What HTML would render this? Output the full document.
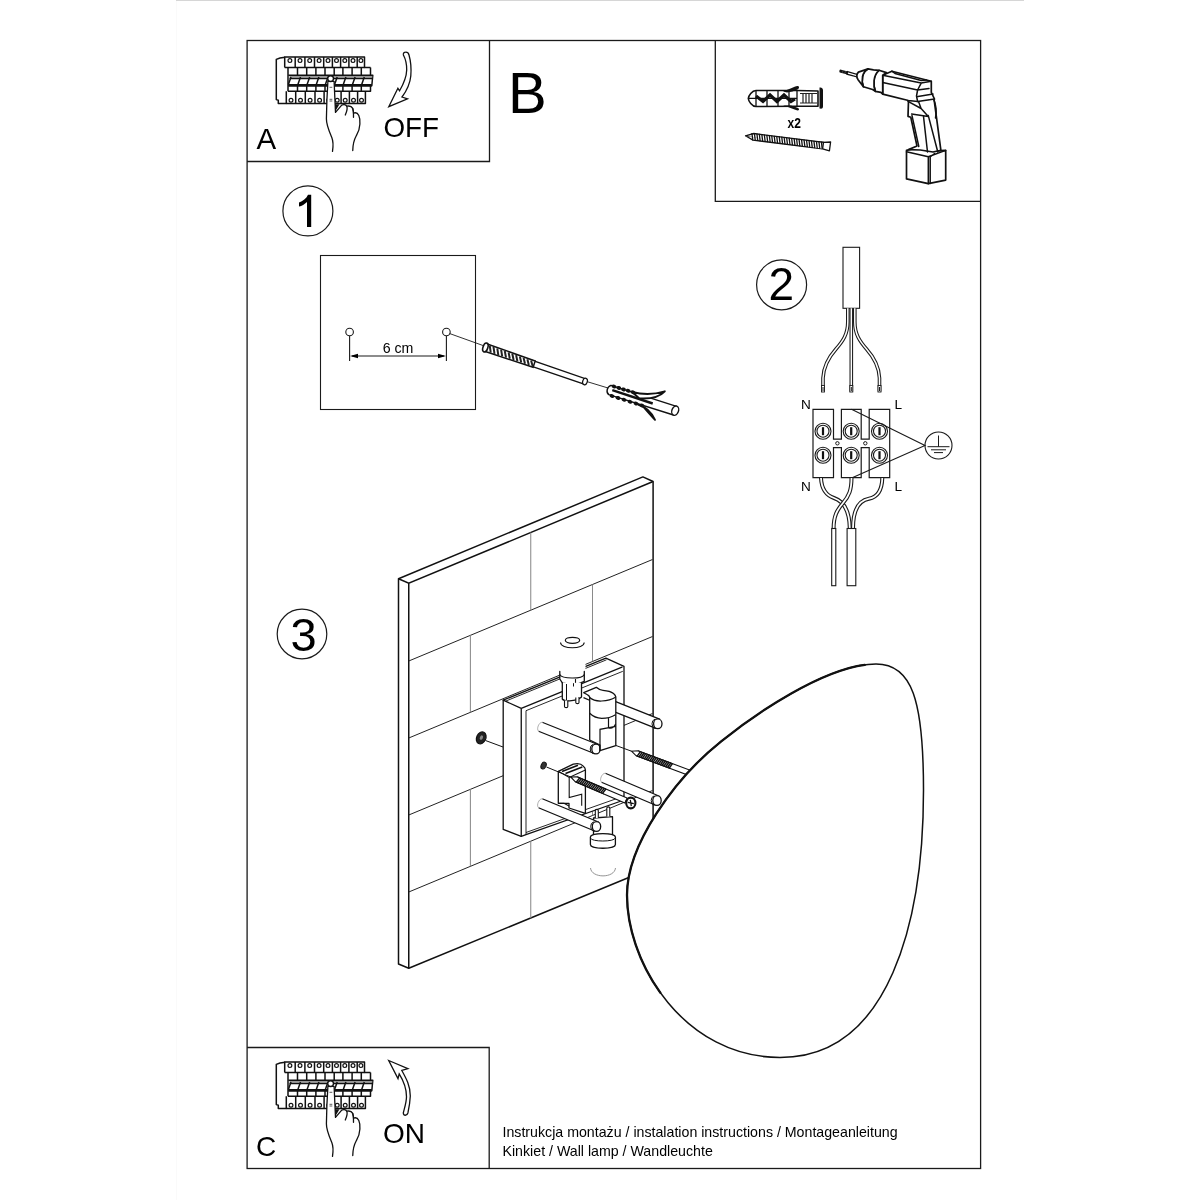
<!DOCTYPE html>
<html><head><meta charset="utf-8">
<style>
html,body{margin:0;padding:0;background:#fff;width:1200px;height:1200px;overflow:hidden}
svg{display:block;filter:grayscale(1)}
text{font-family:"Liberation Sans",sans-serif;fill:#000}
</style></head>
<body>
<svg width="1200" height="1200" viewBox="0 0 1200 1200">
<rect width="1200" height="1200" fill="#fff"/>
<g fill="none" stroke="#1a1a1a" stroke-width="1.3">
<rect x="247.1" y="40.5" width="733.5" height="1128"/>
<path d="M247.1,161.5 H489.5 V40.5"/>
<path d="M715.3,40.5 V201.3 H980.6"/>
<path d="M247.1,1047.5 H489.2 V1168.5"/>
</g>
<text x="256.5" y="148.8" font-size="29.5">A</text>
<text x="383.5" y="137" font-size="27.8">OFF</text>
<text x="508" y="112.5" font-size="58">B</text>
<text x="256" y="1155.7" font-size="28">C</text>
<text x="383" y="1142.5" font-size="28">ON</text>
<text x="502.5" y="1137" font-size="14.2">Instrukcja montażu / instalation instructions / Montageanleitung</text>
<text x="502.5" y="1155.5" font-size="14.2">Kinkiet / Wall lamp / Wandleuchte</text>
<g fill="none" stroke="#1a1a1a" stroke-width="1.2">
<circle cx="307.9" cy="210.9" r="25"/>
<circle cx="781.6" cy="284.8" r="25"/>
<circle cx="302" cy="634" r="24.8"/>
</g>
<path d="M311.2,194.8 V227 H307 V202 C304.6,204.3 301.8,206 299,206.6 V202.6 C302.8,201.3 306.3,198.6 308,194.8 Z" fill="#000"/>
<text x="781.2" y="300" font-size="46" text-anchor="middle">2</text>
<text x="303.5" y="651.2" font-size="47" text-anchor="middle">3</text>

<rect x="176" y="0" width="848" height="1" fill="#d6d6d6"/>
<rect x="176" y="1" width="1" height="1199" fill="#fafafa"/>

<g id="panelA"><g id="brk" fill="none" stroke="#111" stroke-width="1.5" stroke-linejoin="round">
<path d="M285,57.2 C281,57.6 278.5,58.2 276.3,59.3 V99.6 L278.3,100.2 V103.5 H286.3" />
<path d="M284.7,67.4 V57.1 H364.5 V67.4 H284.7" />
<path d="M295.2,57.1 V67.4"/>
<path d="M304.9,57.1 V67.4"/>
<path d="M314.5,57.1 V67.4"/>
<path d="M323.7,57.1 V67.4"/>
<path d="M332.4,57.1 V67.4"/>
<path d="M340.6,57.1 V67.4"/>
<path d="M348.9,57.1 V67.4"/>
<path d="M357.2,57.1 V67.4"/>
<circle cx="289.9" cy="60.6" r="1.9" stroke-width="1.2"/>
<circle cx="300.0" cy="60.6" r="1.9" stroke-width="1.2"/>
<circle cx="309.7" cy="60.6" r="1.9" stroke-width="1.2"/>
<circle cx="319.1" cy="60.6" r="1.9" stroke-width="1.2"/>
<circle cx="328.0" cy="60.6" r="1.9" stroke-width="1.2"/>
<circle cx="336.5" cy="60.6" r="1.9" stroke-width="1.2"/>
<circle cx="344.8" cy="60.6" r="1.9" stroke-width="1.2"/>
<circle cx="353.0" cy="60.6" r="1.9" stroke-width="1.2"/>
<circle cx="360.9" cy="60.6" r="1.9" stroke-width="1.2"/>
<path d="M288.0,67.4 V91.3 M370.5,67.4 V75.3 M364.5,67.4 H370.5"/>
<path d="M297.5,67.4 V75.3 M297.5,85.8 V91.3"/>
<path d="M306.7,67.4 V75.3 M306.7,85.8 V91.3"/>
<path d="M315.9,67.4 V75.3 M315.9,85.8 V91.3"/>
<path d="M325.0,67.4 V75.3 M325.0,85.8 V91.3"/>
<path d="M334.2,67.4 V75.3 M334.2,85.8 V91.3"/>
<path d="M342.9,67.4 V75.3 M342.9,85.8 V91.3"/>
<path d="M352.1,67.4 V75.3 M352.1,85.8 V91.3"/>
<path d="M361.3,67.4 V75.3 M361.3,85.8 V91.3"/>
<path d="M288.3,75.3 H372.8 L371.8,85.8 H288.3" />
<path d="M289.5,76.9 H372.5" stroke="#777" stroke-width="1.1"/>
<path d="M289.5,78.5 H372.3" stroke-width="1.3"/>
<path d="M288.3,85.3 H371.8" stroke-width="2.6"/>
<path d="M288.4,84.5 L291.0,77"/>
<path d="M297.9,84.5 L300.5,77"/>
<path d="M307.1,84.5 L309.7,77"/>
<path d="M316.3,84.5 L318.9,77"/>
<path d="M325.4,84.5 L328.0,77"/>
<path d="M334.6,84.5 L337.2,77"/>
<path d="M343.3,84.5 L345.9,77"/>
<path d="M352.5,84.5 L355.1,77"/>
<path d="M361.7,84.5 L364.3,77"/>
<path d="M370.5,85.8 V91.3 H288.0"/>
<path d="M286.3,91.3 V103.5 H365.4 V91.3"/>
<path d="M295.7,91.3 V103.5"/>
<path d="M305.3,91.3 V103.5"/>
<path d="M315.0,91.3 V103.5"/>
<path d="M324.1,91.3 V103.5"/>
<path d="M333.3,91.3 V103.5"/>
<path d="M341.1,91.3 V103.5"/>
<path d="M349.4,91.3 V103.5"/>
<path d="M357.6,91.3 V103.5"/>
<circle cx="291.0" cy="100.2" r="1.9" stroke-width="1.2"/>
<circle cx="300.5" cy="100.2" r="1.9" stroke-width="1.2"/>
<circle cx="310.1" cy="100.2" r="1.9" stroke-width="1.2"/>
<circle cx="319.6" cy="100.2" r="1.9" stroke-width="1.2"/>
<circle cx="328.7" cy="100.2" r="1.9" stroke-width="1.2"/>
<circle cx="337.2" cy="100.2" r="1.9" stroke-width="1.2"/>
<circle cx="345.2" cy="100.2" r="1.9" stroke-width="1.2"/>
<circle cx="353.5" cy="100.2" r="1.9" stroke-width="1.2"/>
<circle cx="361.5" cy="100.2" r="1.9" stroke-width="1.2"/>
</g>
<g fill="#fff" stroke="#111" stroke-width="1.3" stroke-linecap="round" stroke-linejoin="round">
<path d="M332.5,151.4 C333.5,145 333,140.5 331.8,137.5 C329,131 326.3,125 326.4,118.8 L326.9,100 L327.9,81.3 L334.1,81.3 L335.5,112.4 L341.5,105.3 C343,104.2 345.8,104.3 346.8,106.2 C348.6,105.8 351.5,106 352.7,108.4 C353.2,110 353.5,111.5 353.5,113.2 C355.5,112.3 357.6,113 358.8,115.5 C360,118 360.1,121 359.9,124 C359.7,128 358.5,132 356.5,135.3 C354.5,139 352.8,143 352.75,150.6" />
<path d="M346.8,106.2 C347.6,108 347,111 345.3,115 M352.7,108.4 C353.6,111 353.8,114 353.5,117.3" fill="none"/>
</g>
<path d="M335,104.2 L339.5,104.2 L335.5,111" fill="#111"/>
<circle cx="330.6" cy="78.6" r="2.9" fill="#fff" stroke="#111" stroke-width="1.4"/>
<path d="M329.5,87.3 H332.3 M329.5,99.3 H332.3 M329.5,101 H332.3" stroke="#333" stroke-width="0.8"/></g>
<use href="#panelA" transform="translate(0,1005)"/>
<path fill="#fff" stroke="#111" stroke-width="1.3" stroke-linejoin="miter" d="M405.5,52.2 C407.5,52 408.6,53.5 409,55 C411,62 411.3,70 410.8,76 C410,84 406.5,91 402,97 L407.5,98.8 L388.8,106.7 L397.9,88.3 L399.6,90.8 C403.5,84 406.5,77 406.7,70 C406.8,63 405,58 403.4,55 C403,53.3 404,52.3 405.5,52.2 Z"/>
<path fill="#fff" stroke="#111" stroke-width="1.3" stroke-linejoin="miter" d="M388.7,1060.5 L407.9,1068.7 L401.8,1070.4 C406,1078 410.5,1086 410.3,1096 C410,1103 409,1108 407.9,1113 C407,1116 403.5,1116 403.3,1113 C404.5,1108 406.5,1102 406.5,1096.7 C406.5,1088 403,1080 399.2,1073.9 L398,1078.6 Z"/>

<g fill="none" stroke="#1a1a1a" stroke-width="1.1">
<rect x="320.5" y="255.5" width="155" height="154"/>
<circle cx="349.6" cy="332" r="3.8"/>
<circle cx="446.4" cy="332" r="3.8"/>
<path d="M349.6,336 V361 M446.4,336 V361 M352,356 H444"/>
<path d="M449.5,333.5 L483,345.5" stroke-width="0.9"/>
<path d="M585,381 L609,388.3" stroke-width="0.9"/>
</g>
<path d="M350,356 l8,-2.2 v4.4z M446,356 l-8,-2.2 v4.4z" fill="#000"/>
<text x="398" y="353.3" font-size="14.2" text-anchor="middle">6 cm</text>

<path fill="#fff" stroke="#111" stroke-width="1.3" d="M530.4,365.9 L584.1,384.2 L585.9,378.8 L532.3,360.4 Z"/>
<ellipse cx="585.0" cy="381.5" rx="2.3" ry="3.3" transform="rotate(18.9 585.0 381.5)" fill="#fff" stroke="#111" stroke-width="1.2"/>
<path fill="#fff" stroke="#111" stroke-width="1.5" d="M484.6,351.3 L533.1,367.3 L535.2,361.0 L487.2,344.0 Z"/>
<path fill="none" stroke="#222" stroke-width="2.0" d="M489.8,345.6 L490.7,352.7 M493.5,346.9 L494.5,353.9 M497.3,348.3 L498.3,355.1 M501.1,349.7 L502.2,356.3 M504.8,351.0 L506.0,357.6 M508.6,352.4 L509.8,358.8 M512.3,353.8 L513.6,360.0 M516.1,355.1 L517.4,361.2 M519.9,356.5 L521.2,362.5 M523.6,357.9 L525.0,363.7 M527.4,359.2 L528.8,364.9 M531.1,360.6 L532.6,366.1"/>
<ellipse cx="485.4" cy="347.5" rx="2.4" ry="4.6" transform="rotate(18 485.4 347.5)" fill="#fff" stroke="#111" stroke-width="1.6"/>
<path fill="#fff" stroke="#111" stroke-width="1.4" stroke-linejoin="round" d="M611,385.3 L676.5,406.3 L673.5,415 L608.8,394.6 C606,392.5 606.5,387 611,385.3 Z"/>
<ellipse cx="675.2" cy="410.7" rx="3.3" ry="4.8" transform="rotate(20 675.2 410.7)" fill="#fff" stroke="#111" stroke-width="1.4"/>
<ellipse cx="614.0" cy="386.5" rx="2.4" ry="1.9" transform="rotate(18 614.0 386.5)" fill="#111"/>
<ellipse cx="618.8" cy="387.9" rx="2.4" ry="1.9" transform="rotate(18 618.8 387.9)" fill="#111"/>
<ellipse cx="623.5" cy="389.4" rx="2.4" ry="1.9" transform="rotate(18 623.5 389.4)" fill="#111"/>
<ellipse cx="628.2" cy="390.8" rx="2.4" ry="1.9" transform="rotate(18 628.2 390.8)" fill="#111"/>
<ellipse cx="633.0" cy="392.2" rx="2.4" ry="1.9" transform="rotate(18 633.0 392.2)" fill="#111"/>
<ellipse cx="612.0" cy="396.0" rx="2.4" ry="1.9" transform="rotate(18 612.0 396.0)" fill="#111"/>
<ellipse cx="618.0" cy="397.9" rx="2.4" ry="1.9" transform="rotate(18 618.0 397.9)" fill="#111"/>
<ellipse cx="624.0" cy="399.8" rx="2.4" ry="1.9" transform="rotate(18 624.0 399.8)" fill="#111"/>
<ellipse cx="630.0" cy="401.7" rx="2.4" ry="1.9" transform="rotate(18 630.0 401.7)" fill="#111"/>
<ellipse cx="636.0" cy="403.6" rx="2.4" ry="1.9" transform="rotate(18 636.0 403.6)" fill="#111"/>
<ellipse cx="642.0" cy="405.5" rx="2.4" ry="1.9" transform="rotate(18 642.0 405.5)" fill="#111"/>
<path fill="#fff" stroke="#111" stroke-width="1.9" stroke-linejoin="round" d="M632,391.8 C645,395.5 656,394 664.8,391.3 C660,396.5 650,399 639,398.3 Z"/>
<path fill="#fff" stroke="#111" stroke-width="1.9" stroke-linejoin="round" d="M638,404.5 C646,407 651.5,412.5 655,419.8 C651,415.5 647.5,411.5 643,406.3"/>
<path fill="none" stroke="#111" stroke-width="2.4" d="M612.3,390.2 L652.7,403.5"/>
<path fill="#fff" stroke="#111" stroke-width="1.6" stroke-linejoin="round" d="M756,90.5 H797 L818,91 V106.3 H797 L756,106.5 C752,106.5 748.5,101 748.3,98.5 C748.5,96 752,90.5 756,90.5 Z"/>
<path fill="#111" d="M819.5,87.5 C822.5,87.5 823,89 823,91 V106 C823,108 822.5,109 819.5,108.5 Z"/>
<path fill="none" stroke="#111" stroke-width="1.3" d="M749,98.3 H797 M756,90.5 V106.5 M767,90.5 V106.5 M778,90.5 V106.5 M789,90.5 V106.5 M797,90.5 V106.5"/>
<path fill="none" stroke="#111" stroke-width="3.2" d="M756,96 L763,101.5 L770,95 L777,101.5 L784,95 L791,101.5 L795,99"/>
<path fill="none" stroke="#222" stroke-width="1.2" d="M800,93.5 H817 M800,103 H817 M803,94 V103 M806,94 V103 M809,94 V103 M812,94 V103"/>
<path fill="#111" d="M783,91.5 C789,89.5 794,86.5 797.5,86 C799.5,86 799.5,88.5 797.5,89.5 C794,91 791,92 787,92.5 Z M783,105.5 C789,107 794,109.5 797.5,110.5 C799.5,110.5 799.5,108.5 797.5,107.8 L791,105.5 Z"/>
<text x="787.5" y="127.7" font-size="14" transform="translate(787.5 0) scale(0.86 1) translate(-787.5 0)" font-weight="bold" fill="#111">x2</text>
<path fill="#fff" stroke="#111" stroke-width="1.3" stroke-linejoin="round" d="M745.5,135.8 L753.0,140.1 L822.6,148.8 L829.4,150.9 L830.6,142.0 L823.5,142.3 Z"/>
<path fill="#fff" stroke="#111" stroke-width="1.3" d="M822.6,148.8 L823.5,142.3 L753.8,133.5 L745.5,135.8"/>
<path fill="none" stroke="#111" stroke-width="1.3" d="M751.9,133.0 L752.8,140.3 M754.4,133.3 L755.3,140.7 M756.9,133.6 L757.8,141.0 M759.3,133.9 L760.2,141.3 M761.8,134.2 L762.7,141.6 M764.3,134.5 L765.2,141.9 M766.8,134.8 L767.7,142.2 M769.3,135.2 L770.2,142.5 M771.7,135.5 L772.6,142.8 M774.2,135.8 L775.1,143.2 M776.7,136.1 L777.6,143.5 M779.2,136.4 L780.1,143.8 M781.7,136.7 L782.6,144.1 M784.1,137.0 L785.0,144.4 M786.6,137.3 L787.5,144.7 M789.1,137.7 L790.0,145.0 M791.6,138.0 L792.5,145.3 M794.1,138.3 L795.0,145.6 M796.6,138.6 L797.4,146.0 M799.0,138.9 L799.9,146.3 M801.5,139.2 L802.4,146.6 M804.0,139.5 L804.9,146.9 M806.5,139.8 L807.4,147.2 M809.0,140.2 L809.8,147.5 M811.4,140.5 L812.3,147.8 M813.9,140.8 L814.8,148.1 M816.4,141.1 L817.3,148.5 M818.9,141.4 L819.8,148.8 M821.4,141.7 L822.2,149.1"/>

<path fill="#fff" stroke="#111" stroke-width="1.2" d="M847.5,71.6 L858,74.6 L857.5,77 L847,74.2 Z"/>
<path fill="#111" d="M840.2,69.6 L848,71.4 L847.4,74.6 L839.8,72.6 C839,72.2 839.3,69.8 840.2,69.6 Z"/>
<path stroke="#777" stroke-width="0.5" d="M843,70.5 L842.3,72.8 M845.5,71.1 L844.8,73.5"/>
<path fill="#fff" stroke="#111" stroke-width="1.7" stroke-linejoin="round" stroke-linecap="round" d="M906.5,150.4 L917,148 L928.3,151 L945.7,150.4 V180.1 L928.3,183.7 L906.5,178.9 Z"/>
<path fill="none" stroke="#111" stroke-width="1.5" stroke-linejoin="round" stroke-linecap="round" d="M906.5,151.8 L928.3,156.8 L945.7,150.4 M928.3,156.8 V183.7 M930.2,157 V183.5 M934.6,153.6 L930,157"/>
<path fill="#fff" stroke="#111" stroke-width="1.7" stroke-linejoin="round" stroke-linecap="round" d="M908.5,100.5 L934,99 L940.9,150.4 L933,152 L920.3,150 L908.5,149.6 L917,146 L910.8,117.2 L908,116.4 Z"/>
<path fill="none" stroke="#111" stroke-width="1.5" stroke-linejoin="round" stroke-linecap="round" d="M908,101.3 L921.1,108.5 L928.3,116.4 L911.6,114 M912,115.6 L918.8,146.5 M923.5,116.4 L927.5,152 M928.3,115.6 L937.8,152 M933.8,99.75 C936,104 937,112 935.5,118 M921.1,108.5 L916.5,96 L921,83"/>
<path fill="#fff" stroke="#111" stroke-width="1.7" stroke-linejoin="round" stroke-linecap="round" d="M882.7,75.3 L891.9,71.2 L931.3,81.3 L931.3,92.3 L934.5,99 L917.6,101.5 L908.4,100.5 L882.7,94.1 Z"/>
<path fill="none" stroke="#111" stroke-width="1.5" stroke-linejoin="round" stroke-linecap="round" d="M882.7,75.3 L921.2,83.1 L931.3,81.3 M882.7,82.6 L917.6,90 M921.2,83.1 L917.6,90 L916.5,96 L917.6,101.5 M917.6,90 L929,88.5 M918,96.5 L933,94 M891.9,71.2 L895,73.5 L921.2,80.5 L926.5,79.9"/>
<path fill="#fff" stroke="#111" stroke-width="1.7" stroke-linejoin="round" stroke-linecap="round" d="M879,70.3 L886.4,72.6 L882.7,75.3 V94.1 L880.9,92.3 L875.4,91.4 C873,86 873,75 879,70.3 Z"/>
<path fill="#fff" stroke="#111" stroke-width="1.7" stroke-linejoin="round" stroke-linecap="round" d="M868,68.9 L873.5,69.8 L879,70.3 C873,75 873,86 875.4,91.4 L872.6,89.5 L863.4,86.8 C861,80 862,72 868,68.9 Z"/>
<path fill="#fff" stroke="#111" stroke-width="1.7" stroke-linejoin="round" stroke-linecap="round" d="M858.4,72.1 L868,68.9 C862,72 861,80 863.4,86.8 L857.9,79.4 C856.5,77 856.8,73.8 858.4,72.1 Z"/>

<g fill="none" stroke="#1a1a1a" stroke-width="1.1">
<rect x="843" y="247.3" width="16.6" height="61" fill="#fff"/>
</g>
<path d="M847.8,308.3 V322 C847.8,334 843,341 836,349 C828,358 823.5,366 823,378 V391.5" fill="none" stroke="#1a1a1a" stroke-width="3.6"/>
<path d="M851.3,308.3 V391.5" fill="none" stroke="#1a1a1a" stroke-width="3.6"/>
<path d="M854.8,308.3 V322 C854.8,334 859.5,341 866.5,349 C874.5,358 879,366 879.5,378 V391.5" fill="none" stroke="#1a1a1a" stroke-width="3.6"/>
<path d="M847.8,308.3 V322 C847.8,334 843,341 836,349 C828,358 823.5,366 823,378 V391.5" fill="none" stroke="#fff" stroke-width="1.5"/>
<path d="M851.3,308.3 V391.5" fill="none" stroke="#fff" stroke-width="1.5"/>
<path d="M854.8,308.3 V322 C854.8,334 859.5,341 866.5,349 C874.5,358 879,366 879.5,378 V391.5" fill="none" stroke="#fff" stroke-width="1.5"/>
<rect x="821.5" y="385.5" width="3" height="6.5" fill="#fff" stroke="#1a1a1a" stroke-width="0.9"/>
<path d="M823.0,387 V391" stroke="#1a1a1a" stroke-width="1"/>
<rect x="849.8" y="385.5" width="3" height="6.5" fill="#fff" stroke="#1a1a1a" stroke-width="0.9"/>
<path d="M851.3,387 V391" stroke="#1a1a1a" stroke-width="1"/>
<rect x="878.0" y="385.5" width="3" height="6.5" fill="#fff" stroke="#1a1a1a" stroke-width="0.9"/>
<path d="M879.5,387 V391" stroke="#1a1a1a" stroke-width="1"/>
<path fill="#fff" stroke="#1a1a1a" stroke-width="1.2" d="M813,409.3 H833.5 V439.2 H841.4 V409.3 H861.2 V439.2 H869.2 V409.3 H889.7 V477.7 H869.2 V447.7 H861.2 V477.7 H841.4 V447.7 H833.5 V477.7 H813 Z"/>
<circle cx="823.0" cy="431.2" r="8" fill="#fff" stroke="#1a1a1a" stroke-width="1.1"/>
<circle cx="823.0" cy="431.2" r="6" fill="none" stroke="#1a1a1a" stroke-width="1.1"/>
<rect x="821.9" y="427.2" width="2.2" height="8" fill="#111"/>
<circle cx="823.0" cy="455.2" r="8" fill="#fff" stroke="#1a1a1a" stroke-width="1.1"/>
<circle cx="823.0" cy="455.2" r="6" fill="none" stroke="#1a1a1a" stroke-width="1.1"/>
<rect x="821.9" y="451.2" width="2.2" height="8" fill="#111"/>
<circle cx="851.2" cy="431.2" r="8" fill="#fff" stroke="#1a1a1a" stroke-width="1.1"/>
<circle cx="851.2" cy="431.2" r="6" fill="none" stroke="#1a1a1a" stroke-width="1.1"/>
<rect x="850.1" y="427.2" width="2.2" height="8" fill="#111"/>
<circle cx="851.2" cy="455.2" r="8" fill="#fff" stroke="#1a1a1a" stroke-width="1.1"/>
<circle cx="851.2" cy="455.2" r="6" fill="none" stroke="#1a1a1a" stroke-width="1.1"/>
<rect x="850.1" y="451.2" width="2.2" height="8" fill="#111"/>
<circle cx="879.5" cy="431.2" r="8" fill="#fff" stroke="#1a1a1a" stroke-width="1.1"/>
<circle cx="879.5" cy="431.2" r="6" fill="none" stroke="#1a1a1a" stroke-width="1.1"/>
<rect x="878.4" y="427.2" width="2.2" height="8" fill="#111"/>
<circle cx="879.5" cy="455.2" r="8" fill="#fff" stroke="#1a1a1a" stroke-width="1.1"/>
<circle cx="879.5" cy="455.2" r="6" fill="none" stroke="#1a1a1a" stroke-width="1.1"/>
<rect x="878.4" y="451.2" width="2.2" height="8" fill="#111"/>
<circle cx="837.4" cy="443.3" r="1.7" fill="#fff" stroke="#1a1a1a" stroke-width="1"/>
<circle cx="865.3" cy="443.3" r="1.7" fill="#fff" stroke="#1a1a1a" stroke-width="1"/>
<circle cx="938.5" cy="445.5" r="13.5" fill="#fff" stroke="#1a1a1a" stroke-width="1.1"/>
<path d="M938.5,435.5 V446.7 M927.5,446.7 H949.5 M931,449.8 H946 M934,452.6 H943" stroke="#1a1a1a" stroke-width="1" fill="none"/>
<path d="M851.5,409.3 L925,445.5 L852.2,477.7" stroke="#1a1a1a" stroke-width="1.1" fill="none"/>
<text x="801" y="408.6" font-size="13.6">N</text>
<text x="894.5" y="408.6" font-size="13.6">L</text>
<text x="801" y="490.6" font-size="13.6">N</text>
<text x="894.5" y="490.6" font-size="13.6">L</text>
<path d="M821,478 C821.5,488 825,495 834,498 C843,501 849.5,510 849.8,528.5" fill="none" stroke="#1a1a1a" stroke-width="4"/>
<path d="M821,478 C821.5,488 825,495 834,498 C843,501 849.5,510 849.8,528.5" fill="none" stroke="#fff" stroke-width="1.8"/>
<path d="M851.5,478 C851.5,490 849,496 843,503 C837,510 833.6,516 833.6,528.5" fill="none" stroke="#1a1a1a" stroke-width="4"/>
<path d="M851.5,478 C851.5,490 849,496 843,503 C837,510 833.6,516 833.6,528.5" fill="none" stroke="#fff" stroke-width="1.8"/>
<path d="M882.3,478 C882,490 878,497 869,498.7 C859,500.5 853,510 853,528.5" fill="none" stroke="#1a1a1a" stroke-width="4"/>
<path d="M882.3,478 C882,490 878,497 869,498.7 C859,500.5 853,510 853,528.5" fill="none" stroke="#fff" stroke-width="1.8"/>
<rect x="831.7" y="528.5" width="4.1" height="57.2" fill="#fff" stroke="#1a1a1a" stroke-width="1.1"/>
<rect x="847.1" y="528.5" width="8.7" height="57.2" fill="#fff" stroke="#1a1a1a" stroke-width="1.1"/>

<path fill="#fff" stroke="#111" stroke-width="1.5" stroke-linejoin="round" d="M398.5,964 V578.8 L642.9,476.9 L653.1,481.5 V830 L630,877 L408.75,968.3 Z"/>
<path fill="none" stroke="#111" stroke-width="1.5" d="M398.5,578.8 L408.75,583.3 L653.1,481.5 M408.75,583.3 V968.3"/>
<path d="M408.75,661.0 L652.5,559.5" stroke="#222" stroke-width="1" fill="none"/>
<path d="M408.75,738.0 L652.5,636.5" stroke="#222" stroke-width="1" fill="none"/>
<path d="M408.75,815.0 L652.5,713.5" stroke="#222" stroke-width="1" fill="none"/>
<path d="M408.75,892.0 L652.5,790.5" stroke="#222" stroke-width="1" fill="none"/>
<path d="M530.75,532.5 V610.2" stroke="#8a8a8a" stroke-width="1.05" fill="none"/>
<path d="M470.40,635.3 V712.3" stroke="#8a8a8a" stroke-width="1.05" fill="none"/>
<path d="M592.50,584.4 V661.4" stroke="#8a8a8a" stroke-width="1.05" fill="none"/>
<path d="M530.75,687.2 V764.2" stroke="#8a8a8a" stroke-width="1.05" fill="none"/>
<path d="M470.40,789.3 V866.3" stroke="#8a8a8a" stroke-width="1.05" fill="none"/>
<path d="M592.50,738.4 V815.4" stroke="#8a8a8a" stroke-width="1.05" fill="none"/>
<path d="M530.75,841.2 V918.2" stroke="#8a8a8a" stroke-width="1.05" fill="none"/>

<path fill="#fff" stroke="#111" stroke-width="1.3" stroke-linejoin="round" stroke-linecap="round" d="M503.2,700.2 L605.9,658.2 L624,666.3 V800 L526,834.7 L521.25,836.4 L503.2,829.4 Z"/>
<path fill="none" stroke="#111" stroke-width="1.3" stroke-linejoin="round" stroke-linecap="round" d="M503.2,700.2 L521.25,708.3 V836.4 M521.25,708.3 L622,667.2"/>
<path fill="none" stroke="#111" stroke-width="0.9" d="M526,710.7 V834.7 M526,710.7 L622.8,671.3 M505.5,701.2 L606.5,659.8 M526,832.5 L565,818.5 M585.8,809.5 L624,796"/>
<rect x="558.5" y="646" width="27" height="27" fill="#fff"/>
<ellipse cx="572.5" cy="640.3" rx="7.2" ry="3" fill="none" stroke="#111" stroke-width="1.2"/>
<path d="M560.5,642.5 C560.5,649.5 584.2,649.5 584.2,642.5" fill="none" stroke="#111" stroke-width="1.1"/>
<path fill="#fff" stroke="#111" stroke-width="1.3" stroke-linejoin="round" stroke-linecap="round" d="M559.8,671.5 V679 L562.5,683.2 L575.5,684.8 L584.3,681.3 V671.5"/>
<path fill="none" stroke="#111" stroke-width="1.1" d="M559.8,674.5 C562,679 582,679.5 584.3,674.5 M575.5,679 V684.8"/>
<path fill="#fff" stroke="#111" stroke-width="1.3" stroke-linejoin="round" stroke-linecap="round" d="M562.3,683 V699 C565,702.5 578,700.5 581.5,697 V682.8"/>
<path fill="none" stroke="#111" stroke-width="1" d="M566.5,684 V700 M573.5,683.2 V686.5"/>
<path fill="#fff" stroke="#111" stroke-width="1.1" d="M564.5,700.5 V706.5 C564.5,708 567.8,708 567.8,706.5 V700.5 M575.8,697.5 V702.5 C575.8,704 579,704 579,702.5 V697"/>
<path fill="#fff" stroke="none" d="M539.2,731.5 L594.2,753.5 L597.8,744.5 L542.8,722.5 Z"/>
<path fill="none" stroke="#111" stroke-width="1.3" stroke-linejoin="round" stroke-linecap="round" d="M539.2,731.5 L594.2,753.5 M542.8,722.5 L597.8,744.5"/>
<path fill="none" stroke="#999" stroke-width="0.8" d="M542.8,722.5 C539.1,721.0 535.5,730.1 539.2,731.5"/>
<ellipse cx="596.0" cy="749.0" rx="4.2" ry="4.9" fill="#fff" stroke="#111" stroke-width="1.3" stroke-linejoin="round" stroke-linecap="round"/>
<path d="M593.2,744.3 A4.2,4.9 0 0 0 593.2,753.7" fill="none" stroke="#111" stroke-width="1"/>
<path fill="#fff" stroke="none" d="M610.2,710.1 L656.0,728.4 L659.6,719.2 L613.8,700.9 Z"/>
<path fill="none" stroke="#111" stroke-width="1.3" stroke-linejoin="round" stroke-linecap="round" d="M610.2,710.1 L656.0,728.4 M613.8,700.9 L659.6,719.2"/>
<ellipse cx="657.8" cy="723.8" rx="4.2" ry="4.9" fill="#fff" stroke="#111" stroke-width="1.3" stroke-linejoin="round" stroke-linecap="round"/>
<path d="M655.0,719.1 A4.2,4.9 0 0 0 655.0,728.5" fill="none" stroke="#111" stroke-width="1"/>
<path fill="#fff" stroke="#111" stroke-width="1.3" stroke-linejoin="round" stroke-linecap="round" d="M583.7,692.7 L596.3,687.3 C598.5,689.3 600.5,690.3 603,690.3 C607,690.6 611,691.5 613.5,693.5 C614.8,694.5 615.5,695.5 615.8,697 V745.7 L600,750.7 V745 L589.7,740 V697.3 C589.3,696 588.5,695.2 587.5,694.8 Z"/>
<path fill="none" stroke="#111" stroke-width="1.2" d="M589.3,697.3 C593,700.5 598,701.2 601.7,701 C607,700.8 612,699.5 615.5,697.3 M589.7,713.3 C593,716.5 598,718.3 601.7,718.3 C607,718.3 612,717 615.5,714.7 M600,750.7 V729.3 L615.8,726.3 M608.5,717.8 V728 M608.5,727.8 C611,728.5 614,727.5 615.6,724 M583.5,697.6 L589.5,700.2"/>
<path fill="#fff" stroke="#111" stroke-width="1.1" d="M631.5,751.2 L636.2,755.8 L689.1,775.5 L690.9,770.5 L638.1,750.8 Z"/>
<path fill="none" stroke="#111" stroke-width="1.5" d="M637.0,756.4 L640.6,751.4 M638.8,757.1 L642.4,752.1 M640.6,757.8 L644.2,752.7 M642.4,758.4 L645.9,753.4 M644.1,759.1 L647.7,754.1 M645.9,759.7 L649.5,754.7 M647.7,760.4 L651.3,755.4 M649.5,761.1 L653.1,756.1 M651.3,761.7 L654.8,756.7 M653.0,762.4 L656.6,757.4 M654.8,763.1 L658.4,758.1 M656.6,763.7 L660.2,758.7 M658.4,764.4 L662.0,759.4 M660.2,765.1 L663.7,760.0 M661.9,765.7 L665.5,760.7 M663.7,766.4 L667.3,761.4 M665.5,767.0 L669.1,762.0 M667.3,767.7 L670.9,762.7 M669.1,768.4 L672.6,763.4"/>
<path fill="none" stroke="#111" stroke-width="0.9" d="M636.2,755.8 L669.9,768.4 M638.1,750.8 L671.8,763.3"/>
<path d="M616,745.5 L631.5,751.2" stroke="#111" stroke-width="1" fill="none"/>
<path fill="#fff" stroke="none" d="M602.1,782.5 L655.1,805.0 L658.9,796.0 L605.9,773.5 Z"/>
<path fill="none" stroke="#111" stroke-width="1.3" stroke-linejoin="round" stroke-linecap="round" d="M602.1,782.5 L655.1,805.0 M605.9,773.5 L658.9,796.0"/>
<path fill="none" stroke="#999" stroke-width="0.8" d="M605.9,773.5 C602.2,771.9 598.4,780.9 602.1,782.5"/>
<ellipse cx="657.0" cy="800.5" rx="4.2" ry="4.9" fill="#fff" stroke="#111" stroke-width="1.3" stroke-linejoin="round" stroke-linecap="round"/>
<path d="M654.2,795.8 A4.2,4.9 0 0 0 654.2,805.2" fill="none" stroke="#111" stroke-width="1"/>
<path fill="#fff" stroke="#111" stroke-width="1.3" stroke-linejoin="round" stroke-linecap="round" d="M558.3,771.3 L573.3,764.2 C577,763.2 581,763.5 583.3,766.2 C584.8,767.3 585.4,768.5 585.4,770 V813.3 L569,808 V803.3 L558.3,803.3 Z"/>
<path fill="none" stroke="#111" stroke-width="1.1" d="M558.3,771.3 L569.2,777.5 L585.4,770 M569.2,777.5 V797.5 L581.7,794.2 V805.8 M558.3,803.3 L564,803.3 L569,806"/>
<path fill="none" stroke="#111" stroke-width="1.6" d="M562,771.5 L578,765.2 M565.5,773.5 L582.3,767"/>
<ellipse cx="481.2" cy="737.9" rx="4.6" ry="6.2" transform="rotate(25 481.2 737.9)" fill="#222" stroke="#111" stroke-width="1.2"/>
<ellipse cx="481.4" cy="737.6" rx="1.5" ry="2.3" transform="rotate(25 481.4 737.6)" fill="#888"/>
<path d="M485.5,740.5 L503,747" stroke="#111" stroke-width="1" fill="none"/>
<ellipse cx="543.6" cy="765.6" rx="2.4" ry="3.6" fill="#333" stroke="#111" stroke-width="1" transform="rotate(25 543.6 765.6)"/>
<path d="M546.5,767 L570.8,777" stroke="#111" stroke-width="1" fill="none"/>
<path fill="#fff" stroke="#111" stroke-width="1.1" d="M570.8,777.0 L575.3,781.8 L624.9,803.0 L627.1,798.0 L577.4,776.9 Z"/>
<path fill="none" stroke="#111" stroke-width="1.5" d="M576.1,782.5 L579.9,777.6 M577.8,783.2 L581.6,778.4 M579.6,784.0 L583.4,779.1 M581.3,784.7 L585.1,779.9 M583.1,785.5 L586.9,780.6 M584.8,786.2 L588.6,781.4 M586.6,786.9 L590.4,782.1 M588.3,787.7 L592.1,782.8 M590.1,788.4 L593.9,783.6 M591.8,789.2 L595.6,784.3 M593.6,789.9 L597.4,785.1 M595.3,790.7 L599.1,785.8 M597.1,791.4 L600.9,786.6 M598.8,792.1 L602.6,787.3 M600.6,792.9 L604.4,788.1 M602.3,793.6 L606.1,788.8"/>
<path fill="none" stroke="#111" stroke-width="0.9" d="M575.3,781.8 L603.8,794.0 M577.4,776.9 L605.9,789.0"/>
<ellipse cx="630.8" cy="803" rx="4.6" ry="5.4" fill="#fff" stroke="#111" stroke-width="2.1"/>
<path d="M627.8,802.3 L633.8,803.7 M630.3,799.8 L631.3,806.2" stroke="#111" stroke-width="1.3"/>
<path fill="#fff" stroke="#111" stroke-width="1.3" stroke-linejoin="round" stroke-linecap="round" d="M593.5,818 L612.5,816.7 V836 L593.5,837 Z"/>
<path fill="#fff" stroke="#111" stroke-width="1.1" d="M595.3,818 V810.5 C595.3,809 598.3,809 598.3,810.5 V818 M606.8,816.5 V808 C606.8,806.5 609.8,806.5 609.8,808 V816.5"/>
<path fill="#fff" stroke="#111" stroke-width="1.3" stroke-linejoin="round" stroke-linecap="round" d="M590.4,837 C590.4,832.5 615.4,832.5 615.4,837 V844.5 C615.4,849.5 590.4,849.5 590.4,844.5 Z"/>
<path fill="none" stroke="#111" stroke-width="1" d="M590.4,838 C591,842 614.5,842 615.4,838"/>
<path fill="#fff" stroke="none" d="M539.1,808.0 L594.6,831.0 L598.4,822.0 L542.9,799.0 Z"/>
<path fill="none" stroke="#111" stroke-width="1.3" stroke-linejoin="round" stroke-linecap="round" d="M539.1,808.0 L594.6,831.0 M542.9,799.0 L598.4,822.0"/>
<path fill="none" stroke="#999" stroke-width="0.8" d="M542.9,799.0 C539.2,797.4 535.4,806.5 539.1,808.0"/>
<ellipse cx="596.5" cy="826.5" rx="4.2" ry="4.9" fill="#fff" stroke="#111" stroke-width="1.3" stroke-linejoin="round" stroke-linecap="round"/>
<path d="M593.7,821.8 A4.2,4.9 0 0 0 593.7,831.2" fill="none" stroke="#111" stroke-width="1"/>
<path fill="none" stroke="#888" stroke-width="0.9" d="M590.5,868 C591.5,878.5 614.5,878.5 615.5,868"/>

<path fill="#fff" stroke="#111" stroke-width="1.5" d="M876.0,664.0 C912.0,664.0 923.5,700.0 923.5,790.0 C923.5,920.0 890.0,1057.5 780.0,1057.5 C685.0,1057.5 627.0,965.0 627.0,895.0 C627.0,845.0 674.3,778.7 721.2,741.3 C764.2,707.0 831.0,664.0 876.0,664.0 Z"/>
<path fill="none" stroke="#111" stroke-width="2.3" stroke-linecap="round" d="M660.3,992.7 C638.7,962.6 627.0,926.5 627.0,895.0 C627.0,845.0 674.3,778.7 721.2,741.3 C760.7,709.7 820.5,670.8 864.8,664.8"/>

</svg>
</body></html>
